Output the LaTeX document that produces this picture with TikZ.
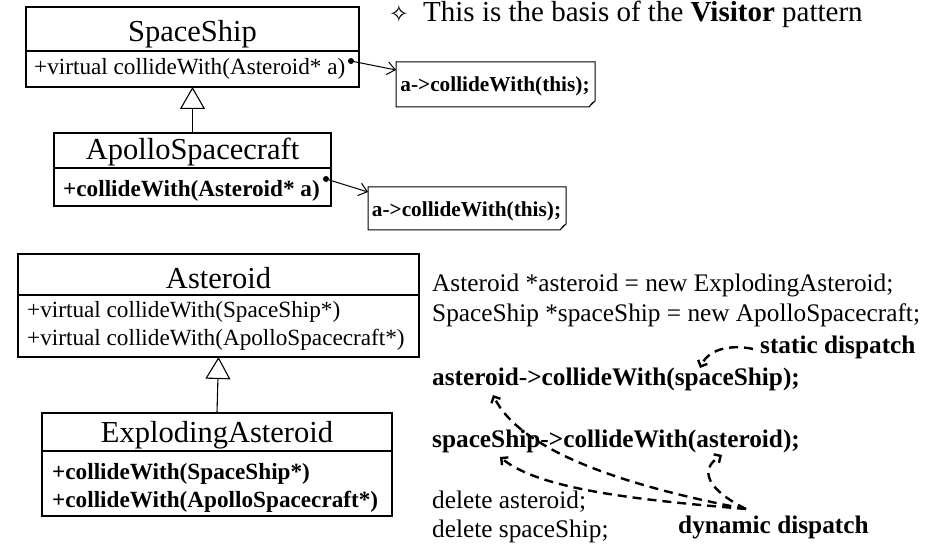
\documentclass[tikz,border=0pt]{standalone}
\usepackage{fontspec}
\setmainfont{Liberation Serif}
\newfontfamily\symfont{DejaVu Sans}
\usetikzlibrary{arrows.meta}

\begin{document}
\begin{tikzpicture}[x=1pt,y=-1pt,
  classbox/.style={draw, line width=1.1pt, anchor=north west, inner sep=0pt, outer sep=0pt},
  divider/.style={line width=1.1pt},
  thickdivider/.style={line width=2pt},
  classname/.style={anchor=base, inner sep=0pt, font=\fontsize{30.5}{36}\selectfont},
  member/.style={anchor=base west, inner sep=0pt, font=\fontsize{23.2}{27}\selectfont},
  boldmember/.style={member, font=\fontsize{23.2}{27}\selectfont\bfseries},
  inherit/.style={line width=1.1pt, -{Triangle[open, length=22pt, width=25pt]}},
  notebox/.style={anchor=north west, inner sep=0pt, outer sep=0pt},
  notetext/.style={anchor=base, inner sep=0pt, font=\fontsize{21.3}{25}\selectfont\bfseries},
  dot/.style={circle, fill, inner sep=0pt, minimum size=6pt},
  callarrow/.style={line width=1pt, -{Straight Barb[length=8pt, width=13pt]}},
  code/.style={anchor=base west, inner sep=0pt, font=\fontsize{25.3}{29}\selectfont},
  boldcode/.style={code, font=\fontsize{25.3}{29}\selectfont\bfseries},
  dispatch/.style={line width=2.4pt, dash pattern=on 9pt off 6pt,
    -{Straight Barb[length=5pt, width=10pt]}}]
\useasboundingbox (0,0) rectangle (948,545);

% heading
\node[inner sep=0pt, font=\symfont\fontsize{24}{28}\selectfont] (bullet) at (399,14) {✧};
\node[anchor=base west, inner sep=0pt, font=\fontsize{29}{35}\selectfont] (heading) at (423,22)
  {This is the basis of the \textbf{Visitor} pattern};

% class SpaceShip
\node[classbox, minimum width=333pt, minimum height=80pt] (ss) at (26,7) {};
\draw[thickdivider] (ss.west |- 0,51) -- (ss.east |- 0,51);
\node[classname] (ssname) at (192.5,42) {SpaceShip};
\node[member] (ssop) at (34,75) {+virtual collideWith(Asteroid* a)};

% class ApolloSpacecraft
\node[classbox, minimum width=277pt, minimum height=73pt] (ap) at (54,133) {};
\draw[divider] (ap.west |- 0,168) -- (ap.east |- 0,168);
\node[classname] (apname) at (192.5,160) {ApolloSpacecraft};
\node[boldmember] (apop) at (63,197) {+collideWith(Asteroid* a)};

\draw[inherit] (ap.north) -- (ss.south);

% notes with folded corner
\node[notebox, minimum width=199pt, minimum height=45pt] (n1) at (396,62) {};
\draw[line width=1pt] (n1.north west) -- (n1.north east) -- ([yshift=6pt]n1.south east)
  -- ([xshift=-6pt]n1.south east) -- (n1.south west) -- cycle;
\draw[line width=0.6pt] ([yshift=6pt]n1.south east) -- ([xshift=-3pt,yshift=4pt]n1.south east)
  -- ([xshift=-6pt]n1.south east);
\node[notetext] (n1text) at (495,92) {a->collideWith(this);};

\node[notebox, minimum width=198pt, minimum height=43pt] (n2) at (368,187) {};
\draw[line width=1pt] (n2.north west) -- (n2.north east) -- ([yshift=6pt]n2.south east)
  -- ([xshift=-6pt]n2.south east) -- (n2.south west) -- cycle;
\draw[line width=0.6pt] ([yshift=6pt]n2.south east) -- ([xshift=-3pt,yshift=4pt]n2.south east)
  -- ([xshift=-6pt]n2.south east);
\node[notetext] (n2text) at (466.5,217) {a->collideWith(this);};

% links from the operations to their notes
\node[dot] (d1) at (351,61) {};
\node[dot] (d2) at (326,179) {};
\draw[callarrow] (d1) -- ([yshift=-8pt]n1.north west);
\draw[callarrow] (d2) -- ([yshift=-5pt]n2.north west);

% class Asteroid
\node[classbox, minimum width=401pt, minimum height=103pt] (as) at (18,254) {};
\draw[divider] (as.west |- 0,295) -- (as.east |- 0,295);
\node[classname] (asname) at (218.5,289) {Asteroid};
\node[member] (asop1) at (27,318) {+virtual collideWith(SpaceShip*)};
\node[member] (asop2) at (27,345) {+virtual collideWith(ApolloSpacecraft*)};

% class ExplodingAsteroid
\node[classbox, minimum width=350pt, minimum height=103pt] (ex) at (42,413) {};
\draw[thickdivider] (ex.west |- 0,451) -- (ex.east |- 0,451);
\node[classname] (exname) at (217,442) {ExplodingAsteroid};
\node[boldmember] (exop1) at (52,479) {+collideWith(SpaceShip*)};
\node[boldmember] (exop2) at (52,507) {+collideWith(ApolloSpacecraft*)};

\draw[inherit] (ex.north) -- (as.south);

% client code
\node[code] (c1) at (432,292) {Asteroid *asteroid = new ExplodingAsteroid;};
\node[code] (c2) at (432,322) {SpaceShip *spaceShip = new ApolloSpacecraft;};
\node[boldcode] (sd) at (760,353) {static dispatch};
\node[boldcode] (c3) at (432,385) {asteroid->collideWith(spaceShip);};
\node[boldcode] (c4) at (432,447) {spaceShip->collideWith(asteroid);};
\node[code] (c5) at (432,508) {delete asteroid;};
\node[code] (c6) at (432,537) {delete spaceShip;};
\node[boldcode] (dd) at (678,533) {dynamic dispatch};

% dispatch markers
\coordinate (sdtip) at (700,368);
\coordinate (ddsrc) at (746,509);
\coordinate (tipA) at (493,395);
\coordinate (tipB) at (500,457);
\coordinate (tipC) at (722,455);

\draw[dispatch] ([xshift=-7pt,yshift=-2pt]sd.west) .. controls (728,344) and (708,350) .. (sdtip);
\draw[dispatch] (ddsrc) .. controls (620,485) and (520,450) .. (tipA);
\draw[dispatch] (ddsrc) .. controls (640,500) and (540,490) .. (tipB);
\draw[dispatch] (ddsrc) .. controls (708,490) and (698,470) .. (tipC);
\end{tikzpicture}
\end{document}
